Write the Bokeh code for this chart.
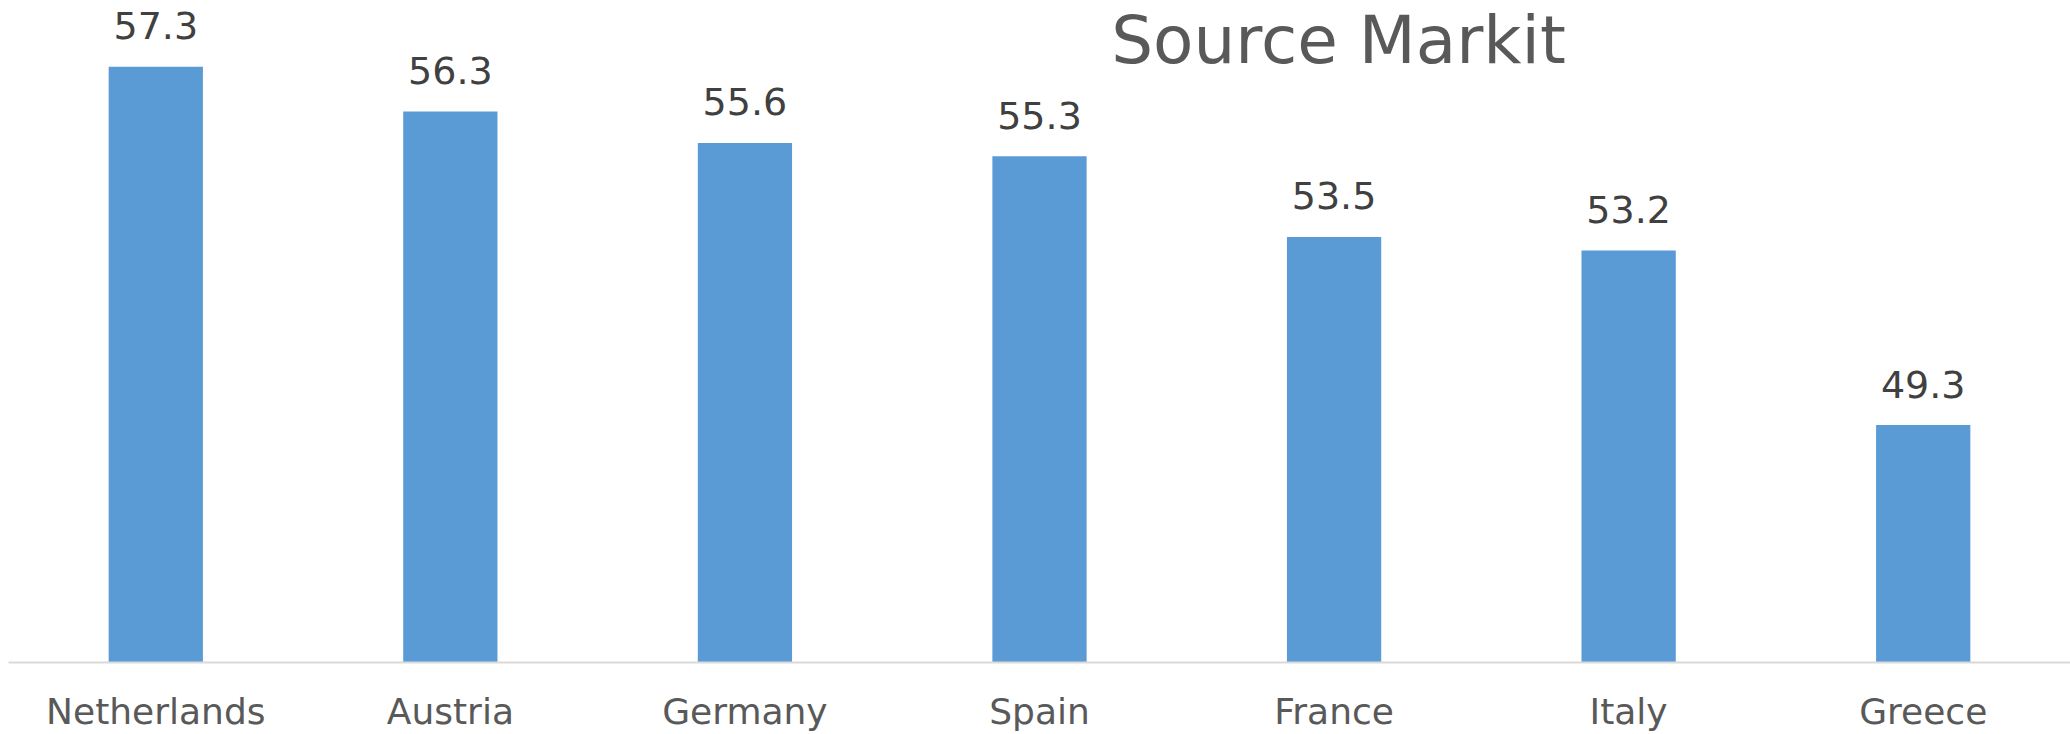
from bokeh.plotting import figure
from bokeh.models import ColumnDataSource, FactorRange, Range1d, Label
from bokeh.core.properties import value
from bokeh.embed import file_html
from bokeh.resources import INLINE

countries = ["Netherlands", "Austria", "Germany", "Spain", "France", "Italy", "Greece"]
pmi = [57.3, 56.3, 55.6, 55.3, 53.5, 53.2, 49.3]
pmi_labels = ["57.3", "56.3", "55.6", "55.3", "53.5", "53.2", "49.3"]
title_text = "Source Markit"

FONT = "DejaVu Sans"
Y0 = 44

src = ColumnDataSource(dict(country=countries, pmi=pmi, lab=pmi_labels))

p = figure(
    width=2070, height=734,
    x_range=FactorRange(*countries, range_padding=0),
    y_range=Range1d(Y0, 58.78),
    output_backend="svg", toolbar_location=None,
    min_border_left=8, min_border_right=0, min_border_top=0, min_border_bottom=72,
)
p.outline_line_color = None
p.background_fill_color = "white"
p.border_fill_color = "white"

p.vbar(x="country", top="pmi", bottom=Y0, width=0.32, source=src,
       fill_color="#5B9BD5", line_color=None)

p.text(x="country", y="pmi", text="lab", source=src,
       text_align="center", text_baseline="alphabetic", y_offset=-41,
       text_font=value(FONT), text_font_size="38px", text_color="#404040")

p.add_layout(Label(x=4.515, y=58.74, text=title_text,
                   text_align="center", text_baseline="top",
                   text_font=FONT, text_font_size="66px", text_color="#595959"))

p.yaxis.visible = False
p.xgrid.visible = False
p.ygrid.visible = False
ax = p.xaxis[0]
ax.axis_line_color = "#D9D9D9"
ax.axis_line_width = 2
ax.major_tick_line_color = None
ax.minor_tick_line_color = None
ax.major_tick_out = 0
ax.major_tick_in = 0
ax.major_label_standoff = 28
ax.major_label_text_font = FONT
ax.major_label_text_font_size = "36px"
ax.major_label_text_color = "#595959"

open("out.html", "w").write(file_html(p, INLINE))
